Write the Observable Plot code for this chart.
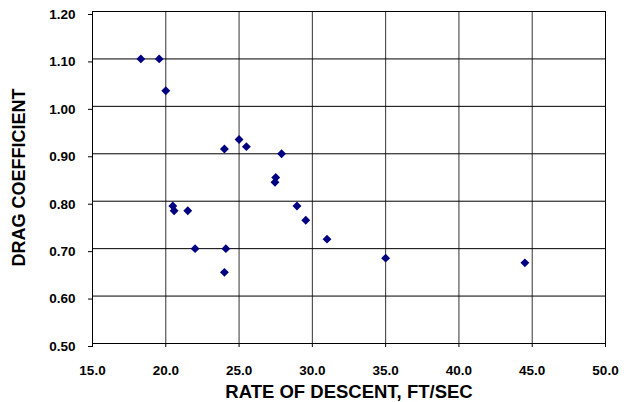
<!DOCTYPE html>
<html>
<head>
<meta charset="utf-8">
<script src="https://cdn.jsdelivr.net/npm/d3@7"></script>
<script src="https://cdn.jsdelivr.net/npm/@observablehq/plot@0.6"></script>
<style>
  html, body { margin: 0; padding: 0; background: #fff; }
  #chart svg { display: block; }
</style>
</head>
<body>
<div id="chart"></div>
<script>
// Data
const rateOfDescent = [18.3, 19.55, 20.0, 20.48, 20.57, 21.5, 22.0, 24.1, 24.0, 24.0, 25.0, 25.5, 27.9, 27.5, 27.45, 28.95, 29.55, 31.0, 35.0, 44.5];
const dragCoefficient = [1.10, 1.10, 1.033, 0.79, 0.78, 0.78, 0.70, 0.70, 0.65, 0.91, 0.93, 0.915, 0.90, 0.85, 0.84, 0.79, 0.76, 0.72, 0.68, 0.67];
const xTicks = [15, 20, 25, 30, 35, 40, 45, 50];
const yTicks = [0.5, 0.6, 0.7, 0.8, 0.9, 1.0, 1.1, 1.2];
const xTitle = "RATE OF DESCENT, FT/SEC";
const yTitle = "DRAG COEFFICIENT";

const points = rateOfDescent.map((x, i) => ({x, y: dragCoefficient[i]}));
const font = "'Liberation Sans', Arial, sans-serif";

const chart = Plot.plot({
  width: 628,
  height: 402,
  marginLeft: 92,
  marginTop: 11,
  marginRight: 23,
  marginBottom: 59,
  style: {fontFamily: font, background: "#fff", color: "#000"},
  x: {domain: [15, 50]},
  y: {domain: [0.5, 1.2]},
  marks: [
    Plot.gridX(xTicks, {stroke: "#333", strokeOpacity: 1, strokeWidth: 1}),
    Plot.gridY(yTicks, {stroke: "#000", strokeOpacity: 1, strokeWidth: 1}),
    Plot.frame({stroke: "#000", strokeWidth: 1}),
    Plot.axisX(xTicks, {
      tickFormat: d3.format(".1f"), tickSize: 4, tickPadding: 18,
      fontSize: 13.5, fontWeight: "bold", label: null
    }),
    Plot.axisY(yTicks, {
      tickFormat: d3.format(".2f"), tickSize: 4, tickPadding: 13, dy: 3,
      fontSize: 13.5, fontWeight: "bold", label: null
    }),
    Plot.text([xTitle], {
      frameAnchor: "bottom", dy: 54, lineAnchor: "bottom",
      fontSize: 18.5, fontWeight: "bold", fill: "#000"
    }),
    Plot.text([yTitle], {
      frameAnchor: "left", textAnchor: "middle", rotate: -90, dx: -73, lineAnchor: "middle",
      fontSize: 18, fontWeight: "bold", fill: "#000"
    }),
    Plot.dot(points, {x: "x", y: "y", symbol: "diamond2", r: 4, fill: "#000080", stroke: "none"})
  ]
});
document.getElementById("chart").append(chart);
</script>
</body>
</html>
